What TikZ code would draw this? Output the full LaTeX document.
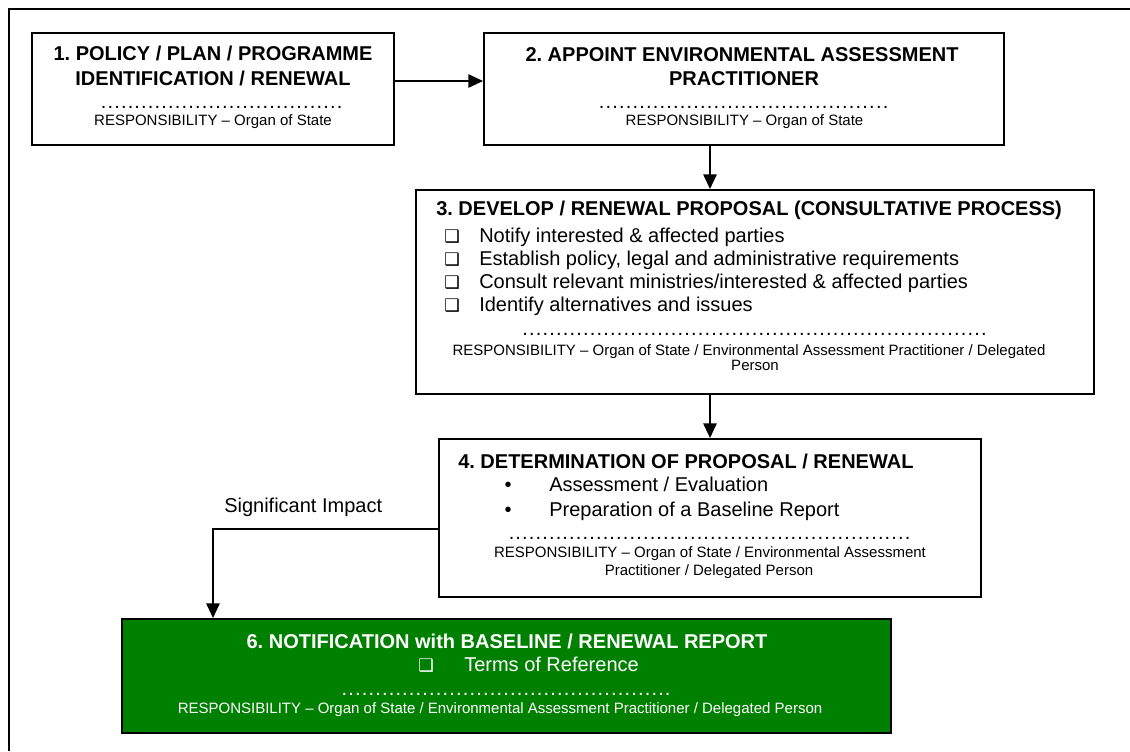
\documentclass[tikz,border=0pt]{standalone}
\usepackage{fontspec}
\setmainfont{Liberation Sans}
\newfontfamily\dejavufont{DejaVu Sans}
\usetikzlibrary{arrows.meta}
\frenchspacing
\definecolor{boxgreen}{RGB}{0,128,0}
\newcommand{\fTitle}{\fontsize{15}{18}\selectfont\bfseries}
\newcommand{\fBody}{\fontsize{15}{18}\selectfont}
\newcommand{\fSmall}{\fontsize{11.25}{13}\selectfont}
\newcommand{\dotrow}[1]{\hbox to #1{\fontsize{15}{18}\selectfont\xleaders\hbox to 5pt{\hss.\hss}\hfill}}
\newcommand{\cbox}{{\dejavufont\fontsize{13}{13}\selectfont ❑}}
\tikzset{
  box/.style={draw, line width=1.5pt, fill=white, inner sep=0pt},
  tc/.style={inner sep=0pt, anchor=base},
  tl/.style={inner sep=0pt, anchor=base west},
  arr/.style={line width=1.3pt, -{Triangle[length=11pt,width=10pt]}},
}
\begin{document}
\begin{tikzpicture}[x=0.75pt,y=-0.75pt]
\useasboundingbox (0,0) rectangle (1130,751);
\draw[line width=2pt] (9,751) -- (9,9) -- (1130,9);

% boxes
\node[box, minimum width=271.5pt, minimum height=84pt] (b1) at (213,89) {};
\node[box, minimum width=390pt, minimum height=84pt] (b2) at (744,89) {};
\node[box, minimum width=508.5pt, minimum height=153pt] (b3) at (755,292) {};
\node[box, minimum width=406.5pt, minimum height=118.5pt] (b4) at (710,518) {};
\node[box, fill=boxgreen, minimum width=576.75pt, minimum height=85.5pt] (b6) at (506.5,676) {};

% box 1
\node[tc, font=\fTitle] (b1t1) at (213,60) {1. POLICY / PLAN / PROGRAMME};
\node[tc, font=\fTitle] (b1t2) at (213,85) {IDENTIFICATION / RENEWAL};
\node[tc] (b1d) at (221.5,108) {\dotrow{182pt}};
\node[tc, font=\fSmall] (b1r) at (213,125) {RESPONSIBILITY -- Organ of State};

% box 2
\node[tc, font=\fTitle] (b2t1) at (742,61) {2. APPOINT ENVIRONMENTAL ASSESSMENT};
\node[tc, font=\fTitle] (b2t2) at (744,85) {PRACTITIONER};
\node[tc] (b2d) at (743.5,108) {\dotrow{218pt}};
\node[tc, font=\fSmall] (b2r) at (744.5,125) {RESPONSIBILITY -- Organ of State};

% box 3
\node[tl, font=\fTitle] (b3t) at (436,215.7) {3. DEVELOP / RENEWAL PROPOSAL (CONSULTATIVE PROCESS)};
\node[tl] (b3c1) at (444,242.5) {\cbox};
\node[tl, font=\fBody] (b3i1) at (479,242.5) {Notify interested \& affected parties};
\node[tl] (b3c2) at (444,265.5) {\cbox};
\node[tl, font=\fBody] (b3i2) at (479,265.5) {Establish policy, legal and administrative requirements};
\node[tl] (b3c3) at (444,288.5) {\cbox};
\node[tl, font=\fBody] (b3i3) at (479,288.5) {Consult relevant ministries/interested \& affected parties};
\node[tl] (b3c4) at (444,311.5) {\cbox};
\node[tl, font=\fBody] (b3i4) at (479,311.5) {Identify alternatives and issues};
\node[tc] (b3d) at (754.5,335.7) {\dotrow{349pt}};
\node[tc, font=\fSmall] (b3r1) at (749,355) {RESPONSIBILITY -- Organ of State / Environmental Assessment Practitioner / Delegated};
\node[tc, font=\fSmall] (b3r2) at (755,370.7) {Person};

% box 4
\node[tl, font=\fTitle] (b4t) at (458,468) {4. DETERMINATION OF PROPOSAL / RENEWAL};
\node[tc, font=\fBody] (b4b1) at (508,491.7) {•};
\node[tl, font=\fBody] (b4i1) at (549,491.7) {Assessment / Evaluation};
\node[tc, font=\fBody] (b4b2) at (508,516.7) {•};
\node[tl, font=\fBody] (b4i2) at (549,516.7) {Preparation of a Baseline Report};
\node[tc] (b4d) at (709.5,539) {\dotrow{302pt}};
\node[tc, font=\fSmall] (b4r1) at (710,557.7) {RESPONSIBILITY -- Organ of State / Environmental Assessment};
\node[tc, font=\fSmall] (b4r2) at (709,575) {Practitioner / Delegated Person};

% box 6
\node[tc, font=\fTitle, text=white] (b6t) at (507,648.3) {6. NOTIFICATION with BASELINE / RENEWAL REPORT};
\node[tl, text=white] (b6c) at (418,671.7) {\cbox};
\node[tl, font=\fBody, text=white] (b6i) at (464,671.7) {Terms of Reference};
\node[tc, text=white] (b6d) at (506,695) {\dotrow{247.5pt}};
\node[tc, font=\fSmall, text=white] (b6r) at (500,713.3) {RESPONSIBILITY -- Organ of State / Environmental Assessment Practitioner / Delegated Person};

% label
\node[tl, font=\fBody] (sig) at (224,512.7) {Significant Impact};

% connectors
\coordinate (h12) at (0,81);
\coordinate (ax) at (710,0);
\coordinate (turn) at (213,529);
\draw[arr] (b1.east |- h12) -- (b2.west |- h12);
\draw[arr] (b2.south -| ax) -- (b3.north -| ax);
\draw[arr] (b3.south -| ax) -- (b4.north -| ax);
\draw[arr] (b4.west |- turn) -- (turn) -- (b6.north -| turn);
\end{tikzpicture}
\end{document}
